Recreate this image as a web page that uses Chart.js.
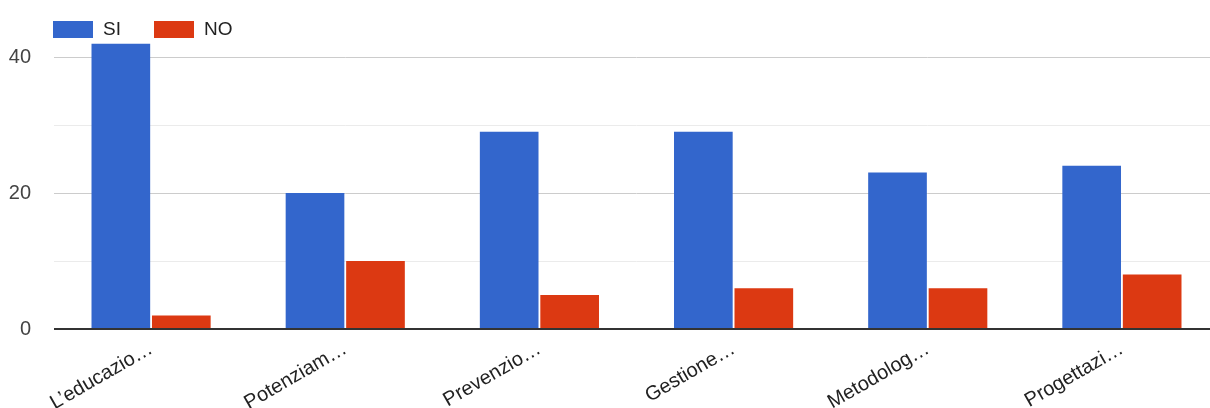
<!DOCTYPE html>
<html>
<head>
<meta charset="utf-8">
<script src="https://cdn.jsdelivr.net/npm/chart.js@4/dist/chart.umd.min.js"></script>
<style>
  html, body { margin: 0; padding: 0; background: #fff; overflow: hidden; }
  #wrap { width: 1219px; height: 408px; }
</style>
</head>
<body>
<div id="wrap"><canvas id="chart" width="1219" height="408"></canvas></div>
<script>
// Values
const categories = ['L\u2019educazio\u2026', 'Potenziam\u2026', 'Prevenzio\u2026', 'Gestione\u2026', 'Metodolog\u2026', 'Progettazi\u2026'];
const siValues = [42, 20, 29, 29, 23, 24];
const noValues = [2, 10, 5, 6, 6, 8];
const yTicks = [0, 10, 20, 30, 40];
const yLabelled = [0, 20, 40];

const FONT = '"Liberation Sans", Arial, sans-serif';

// Legend drawn at top-left like the Google chart one
const topLegend = {
    id: 'topLegend',
    afterDraw(chart) {
        const ctx = chart.ctx;
        ctx.save();
        ctx.font = '19px ' + FONT;
        ctx.textBaseline = 'middle';
        let x = chart.chartArea.left - 1;
        chart.data.datasets.forEach(ds => {
            ctx.fillStyle = ds.backgroundColor;
            ctx.fillRect(x, 21, 40, 17);
            ctx.fillStyle = '#222';
            ctx.fillText(ds.label, x + 50, 30);
            x += 101;
        });
        ctx.restore();
    }
};

const ctx = document.getElementById('chart').getContext('2d');
new Chart(ctx, {
    type: 'bar',
    data: {
        labels: categories,
        datasets: [
            { label: 'SI', data: siValues, backgroundColor: '#3366cc' },
            { label: 'NO', data: noValues, backgroundColor: '#dc3912' }
        ]
    },
    options: {
        responsive: false,
        animation: false,
        layout: { padding: { top: 43.4, right: 0, bottom: 0, left: 0 } },
        datasets: { bar: { categoryPercentage: 0.623, barPercentage: 0.97 } },
        plugins: {
            legend: { display: false },
            tooltip: { enabled: false }
        },
        scales: {
            x: {
                grid: { display: false },
                border: { display: false },
                ticks: {
                    autoSkip: false,
                    minRotation: 30,
                    maxRotation: 30,
                    padding: 0,
                    color: '#222',
                    font: { family: FONT, size: 20 }
                },
                afterFit: (axis) => { axis.height = 79; }
            },
            y: {
                min: 0,
                max: 42,
                border: { display: false },
                afterBuildTicks: (axis) => { axis.ticks = yTicks.map(v => ({ value: v })); },
                afterFit: (axis) => { axis.width = 54; },
                grid: {
                    drawTicks: false,
                    color: (c) => c.tick.value === 0 ? '#333' : (yLabelled.includes(c.tick.value) ? '#cccccc' : '#ebebeb'),
                    lineWidth: (c) => c.tick.value === 0 ? 2 : 1
                },
                ticks: {
                    padding: 23,
                    color: '#444',
                    font: { family: FONT, size: 20 },
                    callback: (v) => yLabelled.includes(v) ? String(v) : ''
                }
            }
        }
    },
    plugins: [topLegend]
});
</script>
</body>
</html>
